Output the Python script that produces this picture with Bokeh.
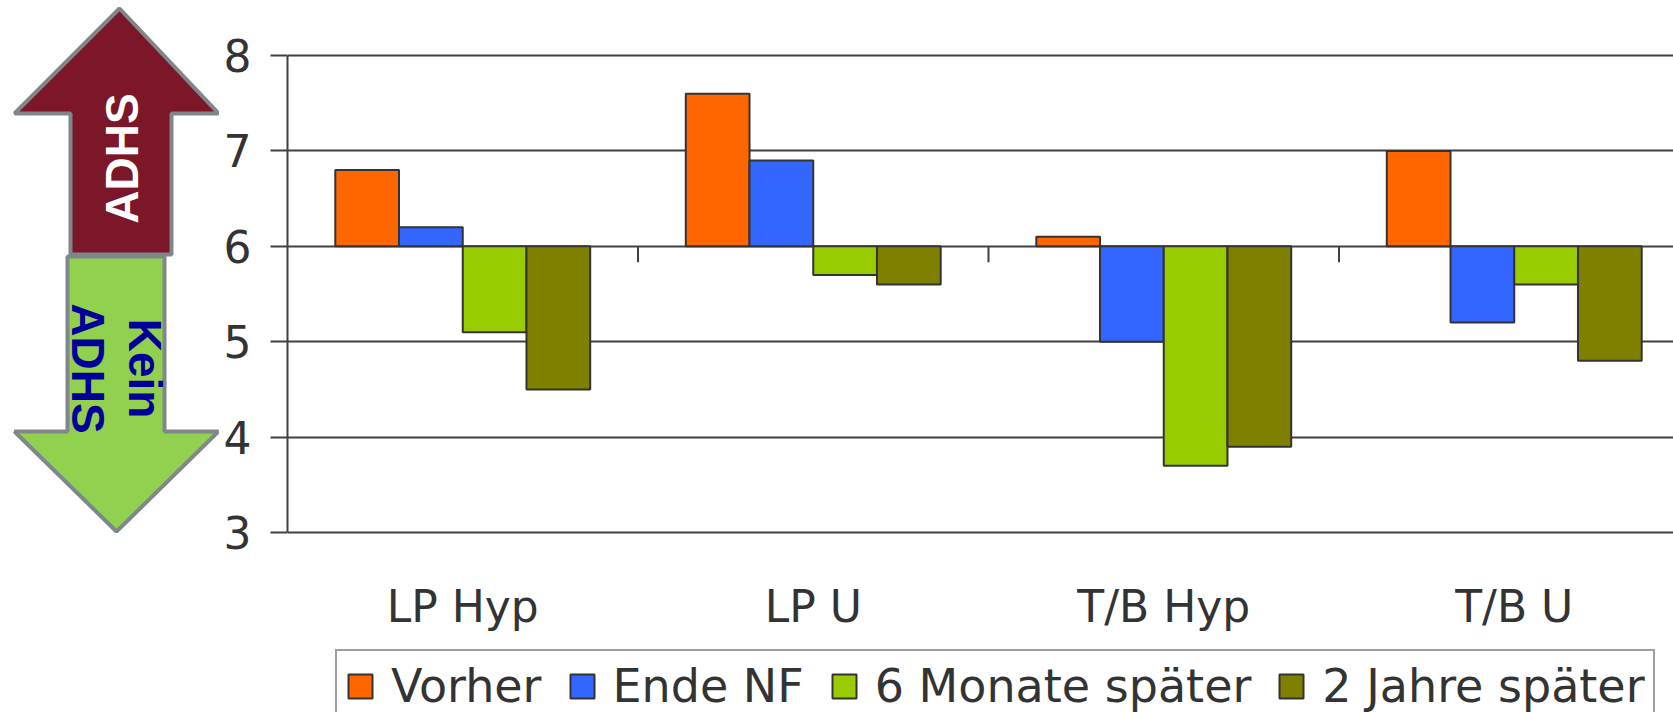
import numpy as np
from bokeh.plotting import figure
from bokeh.layouts import row
from bokeh.models import Range1d, FixedTicker, Legend, LegendItem
from bokeh.core.properties import value
from bokeh.embed import file_html
from bokeh.resources import INLINE

categories = ["LP Hyp", "LP U", "T/B Hyp", "T/B U"]
series = ["Vorher", "Ende NF", "6 Monate später", "2 Jahre später"]
vorher = [6.8, 7.6, 6.1, 7.0]
ende_nf = [6.2, 6.9, 5.0, 5.2]
monate6 = [5.1, 5.7, 3.7, 5.6]
jahre2 = [4.5, 5.6, 3.9, 4.8]
values = [vorher, ende_nf, monate6, jahre2]
colors = ["#FF6600", "#3366FF", "#99CC00", "#808000"]
baseline = 6
y_ticks = [3, 4, 5, 6, 7, 8]

# ---- layout constants (pixels)
W, H = 1673, 712
ARROW_W = 219
MAIN_W = W - ARROW_W
LEFT = 68                 # y-axis panel width
CAT_PX = 350.5            # pixels per category
PX_UNIT = 95.4            # pixels per y unit
TOP_PX, BOT_PX = 55, 180  # space above y=8 and below y=3
FONT = "DejaVu Sans"
TXT = "#333333"
LINE = "#404040"

y0, y1 = min(y_ticks), max(y_ticks)
p = figure(width=MAIN_W, height=H, output_backend="svg", toolbar_location=None,
           x_range=Range1d(0, (MAIN_W - LEFT) / CAT_PX),
           y_range=Range1d(y0 - BOT_PX / PX_UNIT, y1 + TOP_PX / PX_UNIT),
           min_border_left=LEFT, min_border_right=0, min_border_top=0,
           min_border_bottom=0, background_fill_color="white",
           border_fill_color="white", outline_line_color=None)

n = len(categories)
gap = 1.5
slot = 1.0 / (len(series) + gap)
items = []
for j, (name, vals, col) in enumerate(zip(series, values, colors)):
    xs = np.arange(n) + (gap / 2 + j + 0.5) * slot
    r = p.vbar(x=xs, top=vals, bottom=baseline, width=slot, fill_color=col,
               line_color="#333333", line_width=2)
    items.append(LegendItem(label=name, renderers=[r]))

# category boundary ticks on the axis crossing at the baseline
bx = np.arange(1, n + 1)
p.segment(x0=bx, y0=baseline, x1=bx, y1=baseline - 16 / PX_UNIT,
          line_color=LINE, line_width=2)

# category labels (low position, below the plot area)
centers = np.arange(n) + 0.5
p.text(x=centers, y=y0 - 74 / PX_UNIT, text=categories, text_align="center",
       text_baseline="alphabetic", text_font=value(FONT),
       text_font_size="44px", text_color=TXT)

p.xaxis.visible = False
p.xgrid.visible = False
p.ygrid.ticker = FixedTicker(ticks=y_ticks)
p.ygrid.grid_line_color = LINE
p.ygrid.grid_line_width = 2

ya = p.yaxis[0]
ya.ticker = FixedTicker(ticks=y_ticks)
ya.bounds = (y0, y1)
ya.axis_line_color = LINE
ya.axis_line_width = 2
ya.major_tick_line_color = LINE
ya.major_tick_line_width = 2
ya.major_tick_out = 17
ya.major_tick_in = 0
ya.minor_tick_line_color = None
ya.major_label_standoff = 19
ya.major_label_text_font = FONT
ya.major_label_text_font_size = "44px"
ya.major_label_text_color = TXT

legend = Legend(items=items, orientation="horizontal", location=(48, -11),
                label_text_font=FONT, label_text_font_size="46px",
                label_text_color=TXT, glyph_width=30, glyph_height=30,
                label_standoff=16, spacing=25, padding=8, margin=0,
                border_line_color=LINE, border_line_width=2,
                background_fill_color="white", background_fill_alpha=1)
p.add_layout(legend)

# ---- left figure with the ADHS arrows (pixel coordinates, y downward)
a = figure(width=ARROW_W, height=H, output_backend="svg", toolbar_location=None,
           x_range=Range1d(0, ARROW_W), y_range=Range1d(H, 0),
           min_border=0, x_axis_location=None, y_axis_location=None,
           outline_line_color=None, background_fill_color="white",
           border_fill_color="white")
a.grid.visible = False

a.patch(x=[119, 218, 171, 171, 70, 70, 14], y=[8, 113, 113, 254, 254, 113, 113],
        fill_color="#7B1728", line_color="#80878C", line_width=4)
a.patch(x=[67, 164, 164, 218, 116, 14, 67], y=[256, 256, 431, 431, 531, 431, 431],
        fill_color="#92D050", line_color="#80878C", line_width=4)

a.text(x=[121], y=[158], text=["ADHS"], angle=np.pi / 2, text_align="center",
       text_baseline="middle", text_color="white",
       text_font=value("Liberation Sans"), text_font_style="bold",
       text_font_size="46px")
a.text(x=[144, 87], y=[368, 368], text=["Kein", "ADHS"], angle=-np.pi / 2,
       text_align="center", text_baseline="middle", text_color="#000099",
       text_font=value("Liberation Sans"), text_font_style="bold",
       text_font_size="46px")

layout = row(a, p, spacing=0)
open("out.html", "w").write(file_html(layout, INLINE))
